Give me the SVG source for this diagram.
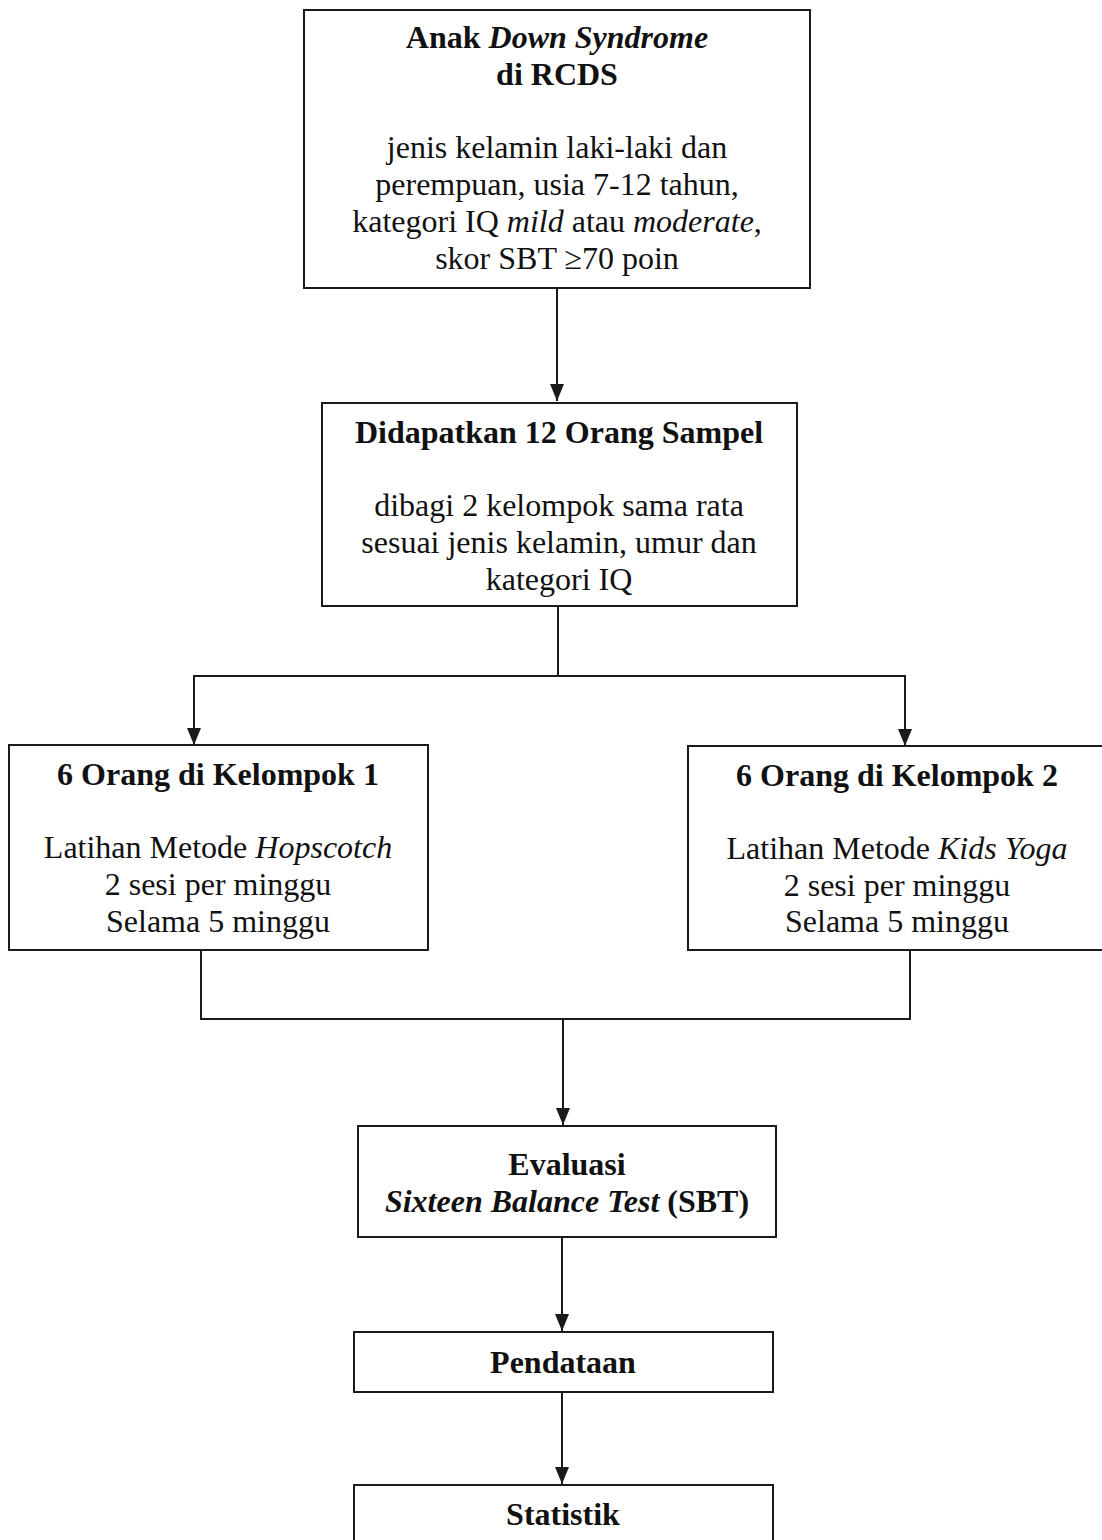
<svg xmlns="http://www.w3.org/2000/svg" width="1102" height="1540" viewBox="0 0 1102 1540">
<style>
.box{fill:#fff;stroke:#1a1a1a;stroke-width:2}
text{font-family:"Liberation Serif","Times New Roman",serif;font-size:32px;fill:#111;text-anchor:middle}
.b{font-weight:bold}
.i{font-style:italic}
.ln{fill:none;stroke:#1a1a1a;stroke-width:2}
</style>
<defs>
<marker id="ah" markerWidth="17" markerHeight="16" refX="17" refY="8" orient="auto" markerUnits="userSpaceOnUse">
<path d="M0,1 L17,8 L0,15 Z" fill="#1a1a1a"/>
</marker>
</defs>
<rect width="1102" height="1540" fill="#fff"/>
<g id="connectors">
<line class="ln" x1="557" y1="288" x2="557" y2="401" marker-end="url(#ah)"/>
<line class="ln" x1="558" y1="606" x2="558" y2="676"/>
<polyline class="ln" points="194,676 905,676"/>
<line class="ln" x1="194" y1="675" x2="194" y2="745" marker-end="url(#ah)"/>
<line class="ln" x1="905" y1="675" x2="905" y2="746" marker-end="url(#ah)"/>
<polyline class="ln" points="201,950 201,1019 910,1019 910,950"/>
<line class="ln" x1="563" y1="1019" x2="563" y2="1125" marker-end="url(#ah)"/>
<line class="ln" x1="562" y1="1237" x2="562" y2="1331" marker-end="url(#ah)"/>
<line class="ln" x1="562" y1="1392" x2="562" y2="1484" marker-end="url(#ah)"/>
</g>
<g id="node1">
<rect class="box" x="304" y="10" width="506" height="278"/>
<text x="557" y="48" class="b">Anak <tspan class="i">Down Syndrome</tspan></text>
<text x="557" y="85" class="b">di RCDS</text>
<text x="557" y="158">jenis kelamin laki-laki dan</text>
<text x="557" y="195">perempuan, usia 7-12 tahun,</text>
<text x="557" y="232">kategori IQ <tspan class="i">mild</tspan> atau <tspan class="i">moderate</tspan>,</text>
<text x="557" y="269">skor SBT ≥70 poin</text>
</g>
<g id="node2">
<rect class="box" x="322" y="403" width="475" height="203"/>
<text x="559" y="443" class="b">Didapatkan 12 Orang Sampel</text>
<text x="559" y="516">dibagi 2 kelompok sama rata</text>
<text x="559" y="553">sesuai jenis kelamin, umur dan</text>
<text x="559" y="590">kategori IQ</text>
</g>
<g id="node3">
<rect class="box" x="9" y="745" width="419" height="205"/>
<text x="218" y="785" class="b">6 Orang di Kelompok 1</text>
<text x="218" y="858">Latihan Metode <tspan class="i">Hopscotch</tspan></text>
<text x="218" y="895">2 sesi per minggu</text>
<text x="218" y="932">Selama 5 minggu</text>
</g>
<g id="node4">
<rect class="box" x="688" y="746" width="420" height="204"/>
<text x="897" y="786" class="b">6 Orang di Kelompok 2</text>
<text x="897" y="859">Latihan Metode <tspan class="i">Kids Yoga</tspan></text>
<text x="897" y="896">2 sesi per minggu</text>
<text x="897" y="932">Selama 5 minggu</text>
</g>
<g id="node5">
<rect class="box" x="358" y="1126" width="418" height="111"/>
<text x="567" y="1175" class="b">Evaluasi</text>
<text x="567" y="1212" class="b"><tspan class="i">Sixteen Balance Test</tspan> (SBT)</text>
</g>
<g id="node6">
<rect class="box" x="354" y="1332" width="419" height="60"/>
<text x="563" y="1373" class="b">Pendataan</text>
</g>
<g id="node7">
<rect class="box" x="354" y="1485" width="419" height="70"/>
<text x="563" y="1525" class="b">Statistik</text>
</g>
</svg>
